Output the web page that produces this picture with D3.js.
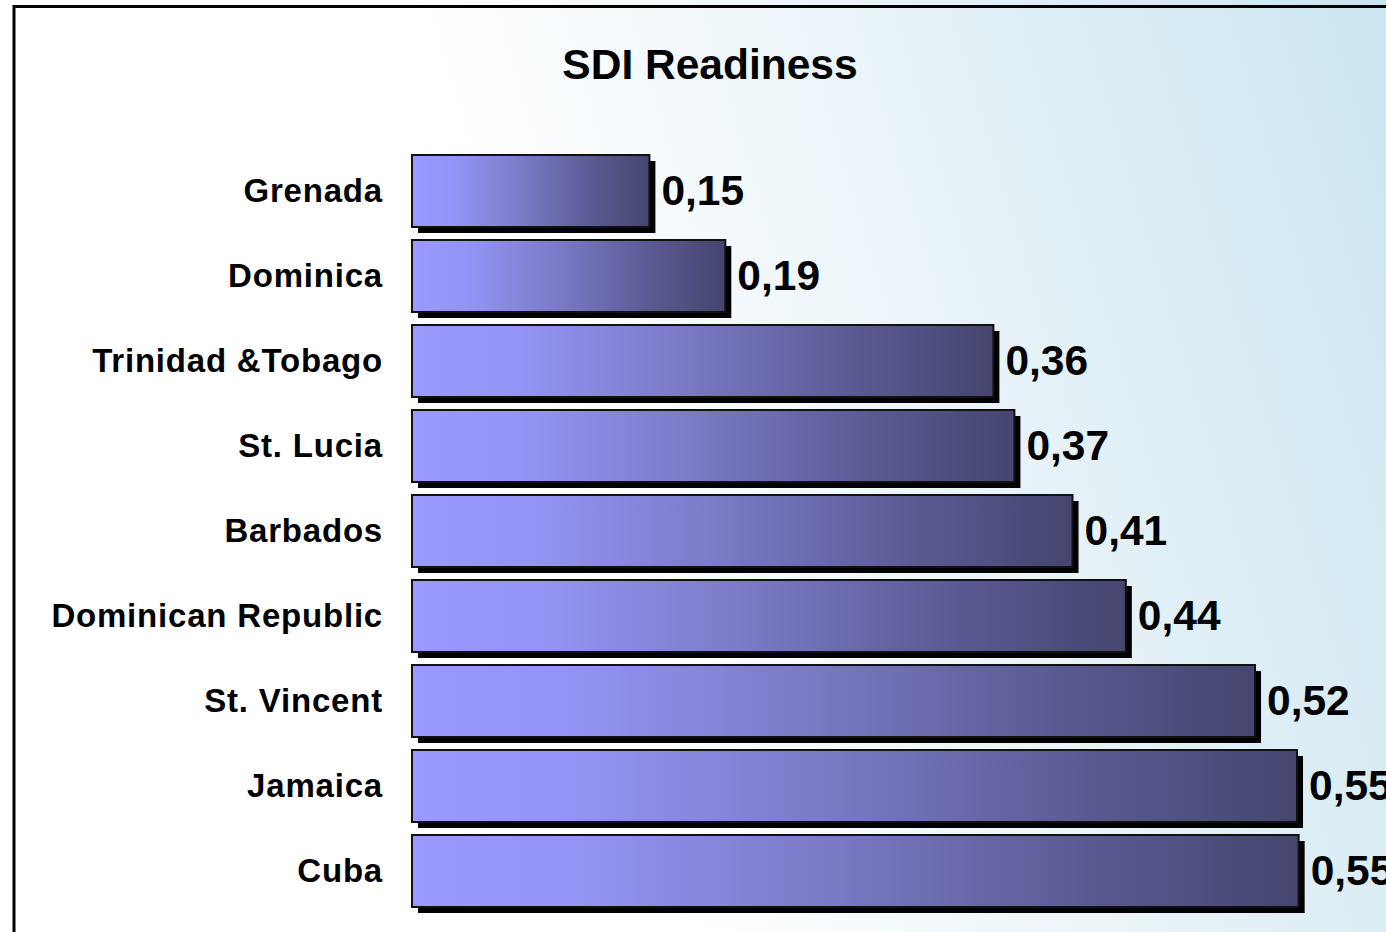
<!DOCTYPE html>
<html>
<head>
<meta charset="utf-8">
<script src="https://cdn.jsdelivr.net/npm/d3@7"></script>
<style>
  body { margin: 0; background: #fff; }
  svg { display: block; font-family: "Liberation Sans", Arial, sans-serif; }
</style>
</head>
<body>
<div id="chart"></div>
<script>
const countries = [
  "Grenada", "Dominica", "Trinidad &Tobago", "St. Lucia", "Barbados",
  "Dominican Republic", "St. Vincent", "Jamaica", "Cuba"
];
const readiness = [0.147, 0.194, 0.36, 0.373, 0.409, 0.442, 0.522, 0.548, 0.549];
const chartTitle = "SDI Readiness";

const width = 1386, height = 932;

const svg = d3.select("#chart")
  .append("svg")
  .attr("width", width)
  .attr("height", height);

const defs = svg.append("defs");

// background wash: white on the left, pale blue on the right
const bg = defs.append("linearGradient")
  .attr("id", "bg")
  .attr("x1", "0").attr("y1", "0.2")
  .attr("x2", "1").attr("y2", "0");
bg.append("stop").attr("offset", "0.32").attr("stop-color", "#ffffff");
bg.append("stop").attr("offset", "0.62").attr("stop-color", "#eaf4f9");
bg.append("stop").attr("offset", "1").attr("stop-color", "#cbe5f0");

// bar fill, light periwinkle to dark slate
const barGrad = defs.append("linearGradient")
  .attr("id", "barGrad")
  .attr("x1", "0").attr("y1", "0")
  .attr("x2", "1").attr("y2", "0");
[
  [0, "#9a9aff"], [0.18, "#9494f6"], [0.45, "#7c7cc9"],
  [0.75, "#5b5b95"], [1, "#45456f"]
].forEach(([o, c]) => barGrad.append("stop").attr("offset", o).attr("stop-color", c));

svg.append("rect")
  .attr("width", width)
  .attr("height", height)
  .attr("fill", "url(#bg)");

// frame (runs off the right and bottom edges)
svg.append("rect")
  .attr("x", 14)
  .attr("y", 6.5)
  .attr("width", width + 20)
  .attr("height", height + 20)
  .attr("fill", "none")
  .attr("stroke", "#000")
  .attr("stroke-width", 3);

const x = d3.scaleLinear()
  .domain([0, 0.6])
  .range([412, 412 + 0.6 * 1615]);

const y = d3.scaleBand()
  .domain(countries)
  .range([148.5, 913.5])
  .paddingInner(0.153)
  .paddingOuter(0.0765);

const data = countries.map((c, i) => ({ country: c, value: readiness[i] }));

svg.append("text")
  .attr("x", 710)
  .attr("y", 79)
  .attr("text-anchor", "middle")
  .style("font-size", "42.5px")
  .style("font-weight", "bold")
  .text(chartTitle);

const rows = svg.selectAll("g.row")
  .data(data)
  .enter()
  .append("g")
  .attr("class", "row");

// drop shadow
rows.append("rect")
  .attr("x", x(0) + 6)
  .attr("y", (d) => y(d.country) + 6)
  .attr("width", (d) => x(d.value) - x(0))
  .attr("height", y.bandwidth())
  .attr("fill", "#000");

rows.append("rect")
  .attr("x", x(0))
  .attr("y", (d) => y(d.country))
  .attr("width", (d) => x(d.value) - x(0))
  .attr("height", y.bandwidth())
  .attr("fill", "url(#barGrad)")
  .attr("stroke", "#111")
  .attr("stroke-width", 2);

rows.append("text")
  .attr("x", (d) => x(d.value) + 12)
  .attr("y", (d) => y(d.country) + y.bandwidth() / 2)
  .attr("dy", "0.33em")
  .style("font-size", "42.5px")
  .style("font-weight", "bold")
  .text((d) => d.value.toFixed(2).replace(".", ","));

rows.append("text")
  .attr("x", 383)
  .attr("y", (d) => y(d.country) + y.bandwidth() / 2)
  .attr("dy", "0.33em")
  .attr("text-anchor", "end")
  .style("font-size", "33px")
  .style("font-weight", "bold")
  .style("letter-spacing", "0.8px")
  .text((d) => d.country);
</script>
</body>
</html>
